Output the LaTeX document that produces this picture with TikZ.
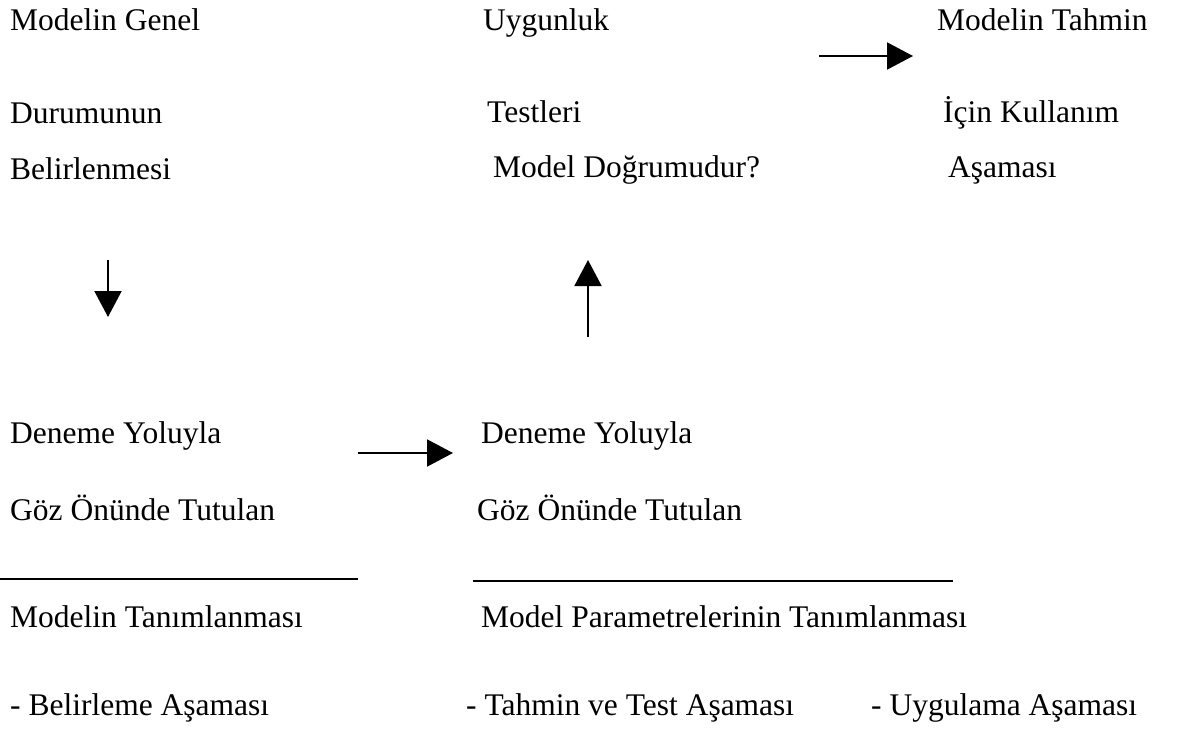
\documentclass[tikz,border=0pt]{standalone}
\usepackage{fontspec}
\setmainfont{Liberation Serif}
\usetikzlibrary{arrows.meta}
\begin{document}
\begin{tikzpicture}[x=1pt,y=-1pt,
  lbl/.style={anchor=base west,inner sep=0pt,font=\fontsize{31.5}{36}\selectfont},
  flow/.style={line width=2pt,-{Triangle[length=26pt,width=27pt]}},
  rule/.style={line width=2.2pt}]
\useasboundingbox (0,0) rectangle (1184,749);

% first stage: specification
\node[lbl] (a1) at (10,31)  {Modelin Genel};
\node[lbl] (a2) at (10,124) {Durumunun};
\node[lbl] (a3) at (10,179) {Belirlenmesi};

% second stage: goodness-of-fit tests
\node[lbl] (b1) at (483,31)  {Uygunluk};
\node[lbl] (b2) at (487,123) {Testleri};
\node[lbl] (b3) at (493,178) {Model Doğrumudur?};

% third stage: use for forecasting
\node[lbl] (c1) at (937,31)  {Modelin Tahmin};
\node[lbl] (c2) at (943,123) {İçin Kullanım};
\node[lbl] (c3) at (948,178) {Aşaması};

% tentative model, left
\node[lbl] (d1) at (10,443) {Deneme Yoluyla};
\node[lbl] (d2) at (10,520) {Göz Önünde Tutulan};
\node[lbl] (d3) at (10,627) {Modelin Tanımlanması};

% tentative model, parameters
\node[lbl] (e1) at (481,443) {Deneme Yoluyla};
\node[lbl] (e2) at (477,520) {Göz Önünde Tutulan};
\node[lbl] (e3) at (481,627) {Model Parametrelerinin Tanımlanması};

% stage names
\node[lbl] (f1) at (10,715)  {- Belirleme Aşaması};
\node[lbl] (f2) at (466,715) {- Tahmin ve Test Aşaması};
\node[lbl] (f3) at (871,715) {- Uygulama Aşaması};

% arrow end points
\coordinate (p1s) at (819,56);  \coordinate (p1e) at (913,56);
\coordinate (p2s) at (108,260); \coordinate (p2e) at (108,317);
\coordinate (p3s) at (588,337); \coordinate (p3e) at (588,260);
\coordinate (p4s) at (358,453); \coordinate (p4e) at (453,453);
\coordinate (r1s) at (0,579);   \coordinate (r1e) at (358,579);
\coordinate (r2s) at (473,581); \coordinate (r2e) at (953,581);

\draw[flow] (p1s) -- (p1e);
\draw[flow] (p2s) -- (p2e);
\draw[flow] (p3s) -- (p3e);
\draw[flow] (p4s) -- (p4e);

\draw[rule] (r1s) -- (r1e);
\draw[rule] (r2s) -- (r2e);
\end{tikzpicture}
\end{document}
